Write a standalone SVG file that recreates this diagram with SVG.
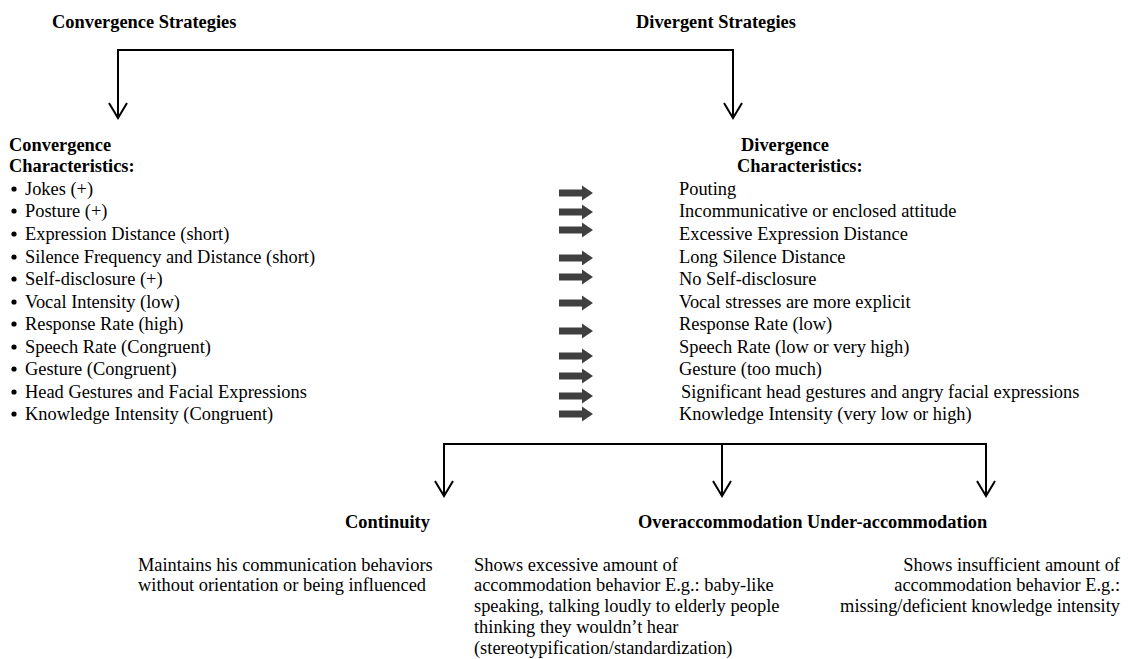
<svg xmlns="http://www.w3.org/2000/svg" width="1128" height="659" viewBox="0 0 1128 659">
<style>
text{font-family:"Liberation Serif","Times New Roman",serif;font-size:18.4px;fill:#000}
.b{font-weight:bold}
.ln{fill:none;stroke:#000;stroke-width:2}
.ah{fill:none;stroke:#000;stroke-width:2}
.blk{fill:#404040}
</style>
<defs>
<path id="blk" d="M0,-3.5 H23 V-7.5 L34,0 L23,7.5 V3.5 H0 Z"/>
</defs>
<rect width="1128" height="659" fill="#fff"/>
<g id="connectors">
<polyline class="ln" points="118,117 118,50 733,50 733,117"/>
<polyline class="ah" points="109,103 118,118 127,103"/>
<polyline class="ah" points="724,103 733,118 742,103"/>
<polyline class="ln" points="444,495 444,444 986,444 986,495"/>
<line class="ln" x1="722" y1="444" x2="722" y2="495"/>
<polyline class="ah" points="435,481 444,496 453,481"/>
<polyline class="ah" points="713,481 722,496 731,481"/>
<polyline class="ah" points="977,481 986,496 995,481"/>
</g>
<g id="convergence-strategies"><text class="b" x="52" y="28">Convergence Strategies</text></g>
<g id="divergent-strategies"><text class="b" x="636" y="28">Divergent Strategies</text></g>
<g id="convergence-characteristics">
<text class="b" x="9" y="151">Convergence</text>
<text class="b" x="9" y="172">Characteristics:</text>
<g fill="#000">
<circle cx="14" cy="189" r="2.6"/><circle cx="14" cy="211" r="2.6"/><circle cx="14" cy="234" r="2.6"/><circle cx="14" cy="257" r="2.6"/><circle cx="14" cy="279" r="2.6"/><circle cx="14" cy="302" r="2.6"/><circle cx="14" cy="324" r="2.6"/><circle cx="14" cy="347" r="2.6"/><circle cx="14" cy="369" r="2.6"/><circle cx="14" cy="392" r="2.6"/><circle cx="14" cy="414" r="2.6"/>
</g>
<text x="25" y="195">Jokes (+)</text>
<text x="25" y="217">Posture (+)</text>
<text x="25" y="240">Expression Distance (short)</text>
<text x="25" y="263">Silence Frequency and Distance (short)</text>
<text x="25" y="285">Self-disclosure (+)</text>
<text x="25" y="308">Vocal Intensity (low)</text>
<text x="25" y="330">Response Rate (high)</text>
<text x="25" y="353">Speech Rate (Congruent)</text>
<text x="25" y="375">Gesture (Congruent)</text>
<text x="25" y="398">Head Gestures and Facial Expressions</text>
<text x="25" y="420">Knowledge Intensity (Congruent)</text>
</g>
<g id="block-arrows" class="blk">
<use href="#blk" x="559" y="193"/><use href="#blk" x="559" y="212"/><use href="#blk" x="559" y="230"/><use href="#blk" x="559" y="258"/><use href="#blk" x="559" y="277"/><use href="#blk" x="559" y="303"/><use href="#blk" x="559" y="331"/><use href="#blk" x="559" y="356"/><use href="#blk" x="559" y="376"/><use href="#blk" x="559" y="396"/><use href="#blk" x="559" y="414"/>
</g>
<g id="divergence-characteristics">
<text class="b" x="741" y="151">Divergence</text>
<text class="b" x="737" y="172">Characteristics:</text>
<text x="679" y="195">Pouting</text>
<text x="679" y="217">Incommunicative or enclosed attitude</text>
<text x="679" y="240">Excessive Expression Distance</text>
<text x="679" y="263">Long Silence Distance</text>
<text x="679" y="285">No Self-disclosure</text>
<text x="679" y="308">Vocal stresses are more explicit</text>
<text x="679" y="330">Response Rate (low)</text>
<text x="679" y="353">Speech Rate (low or very high)</text>
<text x="679" y="375">Gesture (too much)</text>
<text x="681" y="398">Significant head gestures and angry facial expressions</text>
<text x="679" y="420">Knowledge Intensity (very low or high)</text>
</g>
<g id="continuity">
<text class="b" x="345" y="528">Continuity</text>
<text x="138" y="571">Maintains his communication behaviors</text>
<text x="138" y="591">without orientation or being influenced</text>
</g>
<g id="overaccommodation">
<text class="b" x="638" y="528">Overaccommodation Under-accommodation</text>
<text x="474" y="571">Shows excessive amount of</text>
<text x="474" y="591">accommodation behavior E.g.: baby-like</text>
<text x="474" y="612">speaking, talking loudly to elderly people</text>
<text x="474" y="633">thinking they wouldn’t hear</text>
<text x="474" y="654">(stereotypification/standardization)</text>
</g>
<g id="under-accommodation">
<text x="1120" y="571" text-anchor="end">Shows insufficient amount of</text>
<text x="1120" y="591" text-anchor="end">accommodation behavior E.g.:</text>
<text x="1120" y="612" text-anchor="end">missing/deficient knowledge intensity</text>
</g>
</svg>
